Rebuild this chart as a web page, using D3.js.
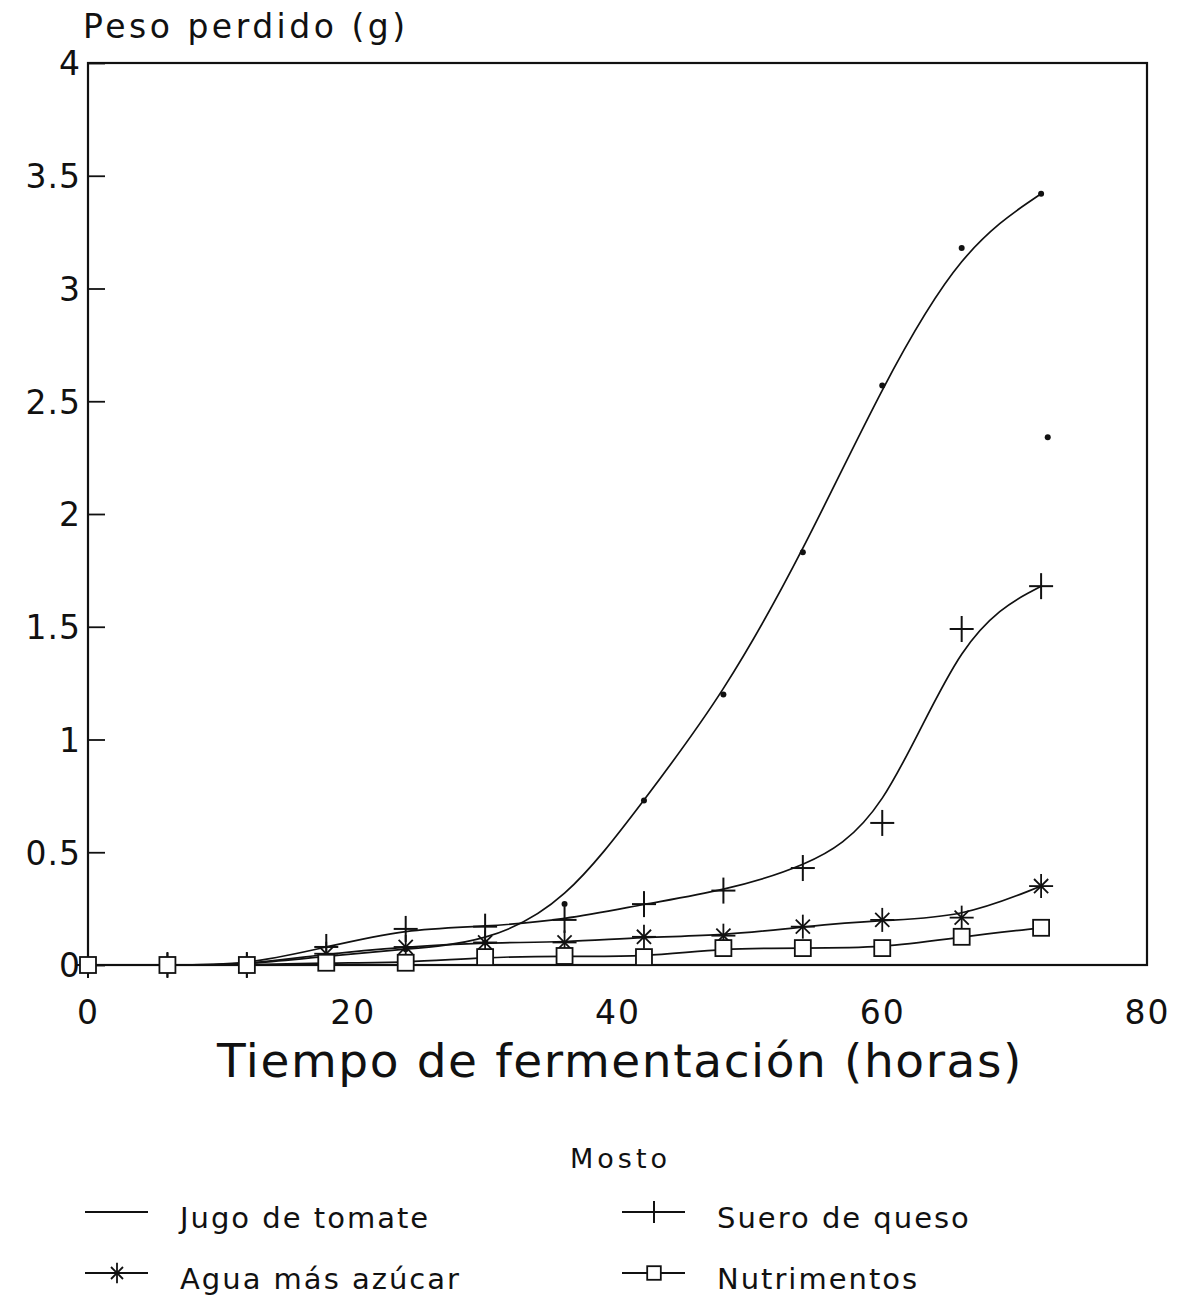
<!DOCTYPE html>
<html>
<head>
<meta charset="utf-8">
<script src="https://cdn.jsdelivr.net/npm/d3@7"></script>
<style>
  body { margin: 0; background: #fff; }
  text { font-family: "DejaVu Sans", Arial, sans-serif; fill: #111; }
</style>
</head>
<body>
<svg id="vis" width="1179" height="1295"></svg>
<script>
const svg = d3.select("#vis");

// hours of fermentation
const HOURS = [0, 6, 12, 18, 24, 30, 36, 42, 48, 54, 60, 66, 72];
// weight lost (g)
const JUGO = [0, 0, 0, 0.04, 0.07, 0.1, 0.27, 0.73, 1.2, 1.83, 2.57, 3.18, 3.42];
const SUERO = [0, 0, 0, 0.08, 0.16, 0.17, 0.2, 0.27, 0.33, 0.43, 0.63, 1.49, 1.68];
const AGUA = [0, 0, 0, 0.05, 0.08, 0.1, 0.1, 0.125, 0.13, 0.17, 0.2, 0.21, 0.35];
const NUTRI = [0, 0, 0, 0.01, 0.01, 0.035, 0.04, 0.035, 0.075, 0.075, 0.075, 0.125, 0.165];
// stray tomato point right of the last one
const JUGO_EXTRA = [{x: 72.5, y: 2.34}];

const Y_TICKS = [0, 0.5, 1, 1.5, 2, 2.5, 3, 3.5, 4];
const X_TICKS = [0, 20, 40, 60, 80];

const LEGEND_NAMES = ["Jugo de tomate", "Suero de queso", "Agua más azúcar", "Nutrimentos"];

const margin = {left: 88, right: 1147, top: 63, bottom: 965};
const x = d3.scaleLinear().domain([0, 80]).range([margin.left, margin.right]);
const y = d3.scaleLinear().domain([0, 4]).range([margin.bottom, margin.top]);

const series = [
  {name: LEGEND_NAMES[0], vals: JUGO, marker: "dot"},
  {name: LEGEND_NAMES[1], vals: SUERO, marker: "plus"},
  {name: LEGEND_NAMES[2], vals: AGUA, marker: "star"},
  {name: LEGEND_NAMES[3], vals: NUTRI, marker: "square"}
];

function drawMarker(g, type, cx, cy, s = 1) {
  if (type == "dot") {
    g.append("circle").attr("cx", cx).attr("cy", cy).attr("r", 3).attr("fill", "#111");
  } else if (type == "plus") {
    g.append("line").attr("x1", cx - 12 * s).attr("x2", cx + 12 * s).attr("y1", cy).attr("y2", cy)
      .attr("stroke", "#111").attr("stroke-width", 2);
    g.append("line").attr("x1", cx).attr("x2", cx).attr("y1", cy - 13 * s).attr("y2", cy + 13 * s)
      .attr("stroke", "#111").attr("stroke-width", 2);
  } else if (type == "star") {
    for (let a = 0; a < 180; a += 45) {
      const r = (a % 90 == 0 ? 12 : 10) * s;
      const dx = r * Math.cos(a * Math.PI / 180), dy = r * Math.sin(a * Math.PI / 180);
      g.append("line").attr("x1", cx - dx).attr("x2", cx + dx).attr("y1", cy - dy).attr("y2", cy + dy)
        .attr("stroke", "#111").attr("stroke-width", 1.8);
    }
  } else {
    g.append("rect").attr("x", cx - 8 * s).attr("y", cy - 8 * s).attr("width", 16 * s).attr("height", 16 * s)
      .attr("fill", "white").attr("stroke", "#111").attr("stroke-width", 1.8);
  }
}

function main() {
  // frame
  svg.append("rect")
    .attr("x", margin.left).attr("y", margin.top)
    .attr("width", margin.right - margin.left).attr("height", margin.bottom - margin.top)
    .attr("fill", "none").attr("stroke", "#111").attr("stroke-width", 2.2);

  // y ticks, pointing inward
  const yAxis = d3.axisLeft(y).tickValues(Y_TICKS).tickSizeInner(-17).tickSizeOuter(0)
    .tickPadding(7).tickFormat(d => d);
  const ga = svg.append("g").attr("transform", `translate(${margin.left},0)`).call(yAxis);
  ga.select(".domain").remove();
  ga.selectAll("line").attr("stroke", "#111").attr("stroke-width", 1.8);
  ga.selectAll("text").attr("font-size", 33).attr("font-family", "DejaVu Sans").attr("fill", "#111")
    .attr("letter-spacing", 1).attr("dy", "0.36em");

  // x labels, no tick marks
  const xAxis = d3.axisBottom(x).tickValues(X_TICKS).tickSize(0).tickPadding(36);
  const gx = svg.append("g").attr("transform", `translate(0,${margin.bottom})`).call(xAxis);
  gx.select(".domain").remove();
  gx.selectAll("text").attr("font-size", 33).attr("font-family", "DejaVu Sans").attr("fill", "#111")
    .attr("letter-spacing", 2);

  svg.append("text").attr("x", 83).attr("y", 38).attr("font-size", 33)
    .attr("letter-spacing", 3.5).text("Peso perdido (g)");
  svg.append("text").attr("x", 620).attr("y", 1077).attr("text-anchor", "middle")
    .attr("font-size", 47).attr("letter-spacing", 1.6).text("Tiempo de fermentación (horas)");

  const line = d3.line().x((d, i) => x(HOURS[i])).y(d => y(d)).curve(d3.curveBasis);

  // lines first, then markers on top
  series.forEach(s => {
    svg.append("path").datum(s.vals).attr("d", line)
      .attr("fill", "none").attr("stroke", "#111").attr("stroke-width", 1.7);
  });
  series.forEach(s => {
    const g = svg.append("g");
    s.vals.forEach((v, i) => drawMarker(g, s.marker, x(HOURS[i]), y(v)));
  });
  const ge = svg.append("g");
  JUGO_EXTRA.forEach(p => drawMarker(ge, "dot", x(p.x), y(p.y)));

  // legend
  svg.append("text").attr("x", 570).attr("y", 1168)
    .attr("font-size", 27).attr("letter-spacing", 4).text("Mosto");
  const legPos = [[85, 1212], [622, 1212], [85, 1273], [622, 1273]];
  series.forEach((s, i) => {
    const [lx, ly] = legPos[i];
    const g = svg.append("g");
    g.append("line").attr("x1", lx).attr("x2", lx + 63).attr("y1", ly).attr("y2", ly)
      .attr("stroke", "#111").attr("stroke-width", 2);
    if (s.marker != "dot") drawMarker(g, s.marker, lx + 32, ly, 0.85);
    g.append("text").attr("x", lx + 95).attr("y", ly + 16).attr("font-size", 29)
      .attr("letter-spacing", 2).text(s.name);
  });
}

main();
</script>
</body>
</html>
